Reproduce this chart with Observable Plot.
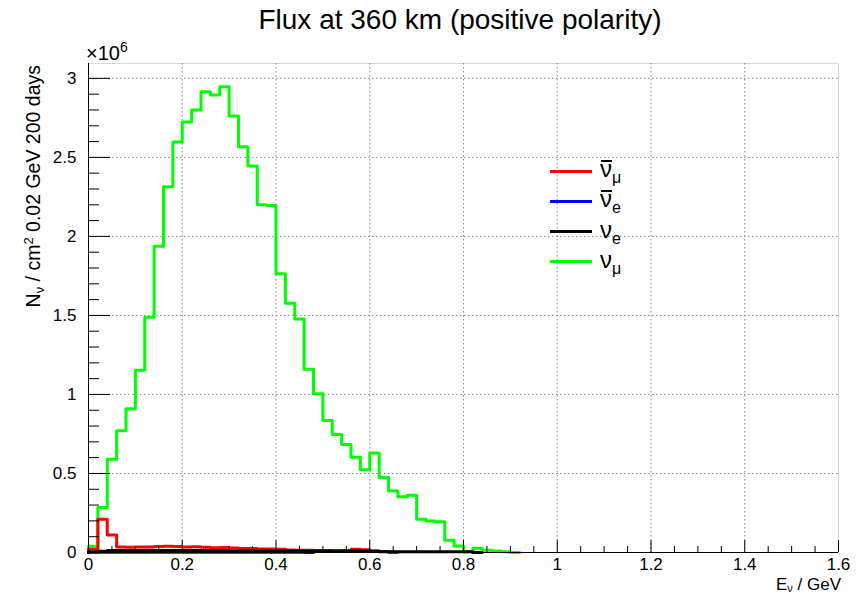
<!DOCTYPE html>
<html><head><meta charset="utf-8">
<script src="https://cdn.jsdelivr.net/npm/d3@7"></script>
<script src="https://cdn.jsdelivr.net/npm/@observablehq/plot@0.6"></script>
<style>
body{margin:0;background:#fff;font-family:"Liberation Sans",Arial,Helvetica,sans-serif;}
#wrap{position:relative;width:858px;height:596px;overflow:hidden;}
#wrap svg{position:absolute;left:0;top:0;}
.t{position:absolute;white-space:nowrap;color:#000;line-height:1;}
.leg{position:absolute;left:550px;}
.leg .ln{position:absolute;left:0;width:42px;height:3px;}
.leg .lb{position:absolute;left:50px;font-size:24px;line-height:1;white-space:nowrap;}
.leg .bar{position:absolute;left:51px;width:11px;height:1.5px;background:#000;}
.leg sub{font-size:16px;vertical-align:-6px;}
</style></head><body><div id="wrap"></div>
<script>
// ---- data (flux in units of 10^6 per 0.02 GeV bin, bins start at 0 GeV) ----
const binWidth = 0.02;
const numuValues = [0.04, 0.285, 0.59, 0.77, 0.91, 1.153, 1.488, 1.937, 2.314, 2.597,
  2.724, 2.80, 2.915, 2.894, 2.947, 2.762, 2.568, 2.445, 2.201, 2.195,
  1.763, 1.577, 1.477, 1.159, 1.005, 0.835, 0.746, 0.683, 0.602, 0.524,
  0.630, 0.475, 0.391, 0.353, 0.363, 0.211, 0.200, 0.194, 0.077, 0.041,
  0.005, 0.027, 0.014, 0.010, 0.005, 0];
const numubarValues = [0.02, 0.211, 0.111, 0.035, 0.033, 0.035, 0.035, 0.038, 0.040, 0.038,
  0.035, 0.037, 0.033, 0.030, 0.032, 0.028, 0.026, 0.025, 0.022, 0.022,
  0.020, 0.016, 0.015, 0.014, 0.013, 0.012, 0.011, 0.012, 0.020, 0.018,
  0.008, 0.006, 0];
const nuebarValues = [0.002, 0.002, 0.002, 0.002, 0.002, 0.002, 0.002, 0.002, 0.002, 0.002,
  0.002, 0.002, 0.002, 0.002, 0.002, 0.002, 0.002, 0.002, 0.002, 0.002,
  0.002, 0.002, 0.002, 0];
const nueValues = [0.003, 0.008, 0.012, 0.012, 0.012, 0.012, 0.012, 0.012, 0.012, 0.012,
  0.012, 0.012, 0.012, 0.012, 0.012, 0.010, 0.010, 0.010, 0.010, 0.010,
  0.010, 0.010, 0.010, 0.010, 0.010, 0.010, 0.010, 0.010, 0.010, 0.010,
  0.010, 0.004, 0.004, 0.004, 0.004, 0.004, 0.004, 0.004, 0.004, 0.004,
  0.004, 0];
const xMajorTicks = [0, 0.2, 0.4, 0.6, 0.8, 1.0, 1.2, 1.4, 1.6];
const xMinorTicks = [0.05,0.1,0.15,0.25,0.3,0.35,0.45,0.5,0.55,0.65,0.7,0.75,0.85,0.9,0.95,1.05,1.1,1.15,1.25,1.3,1.35,1.45,1.5,1.55];
const yMajorTicks = [0, 0.5, 1, 1.5, 2, 2.5, 3];
const yMinorTicks = [0.1,0.2,0.3,0.4,0.6,0.7,0.8,0.9,1.1,1.2,1.3,1.4,1.6,1.7,1.8,1.9,2.1,2.2,2.3,2.4,2.6,2.7,2.8,2.9];
const xDomain = [0, 1.6];
const yDomain = [0, 3.094];
const seriesColors = {numubar: "#ff0000", nuebar: "#0000ff", nue: "#000000", numu: "#00ff00"};

// ---- histogram outline built from bin values ----
function steps(values){
  const pts = [{x: 0, y: 0}];
  values.forEach((v, i) => {
    pts.push({x: i * binWidth, y: v}, {x: (i + 1) * binWidth, y: v});
  });
  return pts;
}

const W = 858, H = 596;
const mL = 88, mR = 20, mT = 63, mB = 44;
const pw = W - mL - mR, ph = H - mT - mB;
const fmt = d => String(+d.toFixed(1));

const chart = Plot.plot({
  width: W, height: H,
  marginLeft: mL, marginRight: mR, marginTop: mT, marginBottom: mB,
  style: {fontFamily: '"Liberation Sans", Arial, sans-serif', background: "#fff", color: "#000"},
  x: {domain: xDomain, axis: null},
  y: {domain: yDomain, axis: null},
  marks: [
    Plot.frame({stroke: "#dadada"}),
    Plot.gridX(xMajorTicks.slice(1, -1), {stroke: "#888", strokeOpacity: 1, strokeDasharray: "1.5,2.5"}),
    Plot.gridY(yMajorTicks.slice(1), {stroke: "#888", strokeOpacity: 1, strokeDasharray: "1.5,2.5"}),
    Plot.line(steps(numuValues), {x: "x", y: "y", stroke: seriesColors.numu, strokeWidth: 3}),
    Plot.line(steps(numubarValues), {x: "x", y: "y", stroke: seriesColors.numubar, strokeWidth: 3}),
    Plot.line(steps(nuebarValues), {x: "x", y: "y", stroke: seriesColors.nuebar, strokeWidth: 3}),
    Plot.line(steps(nueValues), {x: "x", y: "y", stroke: seriesColors.nue, strokeWidth: 3}),
    Plot.ruleY(yMajorTicks, {stroke: "#000", insetRight: pw - 22}),
    Plot.ruleY(yMinorTicks, {stroke: "#000", insetRight: pw - 11}),
    Plot.ruleX(xMajorTicks, {stroke: "#000", insetTop: ph - 12}),
    Plot.ruleX(xMinorTicks, {stroke: "#000", insetTop: ph - 6}),
    Plot.ruleX([0], {stroke: "#000"}),
    Plot.ruleY([0], {stroke: "#000"}),
    Plot.axisX(xMajorTicks, {tickSize: 0, tickPadding: 5, fontSize: 17, tickFormat: fmt, label: null}),
    Plot.axisY(yMajorTicks, {tickSize: 0, tickPadding: 12, fontSize: 17, tickFormat: fmt, label: null})
  ]
});

const wrap = document.getElementById("wrap");
wrap.appendChild(chart);

function addText(html, css){
  const d = document.createElement("div");
  d.className = "t";
  d.innerHTML = html;
  Object.assign(d.style, css);
  wrap.appendChild(d);
  return d;
}
// title
addText("Flux at 360 km (positive polarity)", {left: "0px", width: "920px", textAlign: "center", top: "6px", fontSize: "28px"});
// exponent
addText('&times;10<sup style="font-size:14px;vertical-align:8px">6</sup>', {left: "86px", top: "40px", fontSize: "20px"});
// x title
addText('E<sub style="font-size:11px;vertical-align:-2px">&nu;</sub> / GeV', {right: "17px", top: "576px", fontSize: "17px"});
// y title (rotated, right-aligned to top of axis)
const yt = addText('N<sub style="font-size:13px;vertical-align:-4px">&nu;</sub> / cm<sup style="font-size:13px;vertical-align:7px">2</sup> 0.02 GeV 200 days',
  {left: "0px", top: "0px", fontSize: "19.5px", transformOrigin: "0 0"});
const ytw = yt.getBoundingClientRect().width;
yt.style.transform = `translate(22px, ${65 + ytw}px) rotate(-90deg)`;

// legend
const legendEntries = [
  {key: "numubar", bar: true, label: '&nu;<sub>&mu;</sub>'},
  {key: "nuebar", bar: true, label: '&nu;<sub>e</sub>'},
  {key: "nue", bar: false, label: '&nu;<sub>e</sub>'},
  {key: "numu", bar: false, label: '&nu;<sub>&mu;</sub>'}
];
const leg = document.createElement("div");
leg.className = "leg";
leg.style.top = "171px";
legendEntries.forEach((e, i) => {
  const y0 = i * 30.3;
  const ln = document.createElement("div");
  ln.className = "ln";
  ln.style.top = (y0 - 1.5) + "px";
  ln.style.background = seriesColors[e.key];
  leg.appendChild(ln);
  const lb = document.createElement("div");
  lb.className = "lb";
  lb.style.top = (y0 - 14) + "px";
  lb.innerHTML = e.label;
  leg.appendChild(lb);
  if (e.bar) {
    const b = document.createElement("div");
    b.className = "bar";
    b.style.top = (y0 - 11) + "px";
    leg.appendChild(b);
  }
});
wrap.appendChild(leg);
</script>
</body></html>
